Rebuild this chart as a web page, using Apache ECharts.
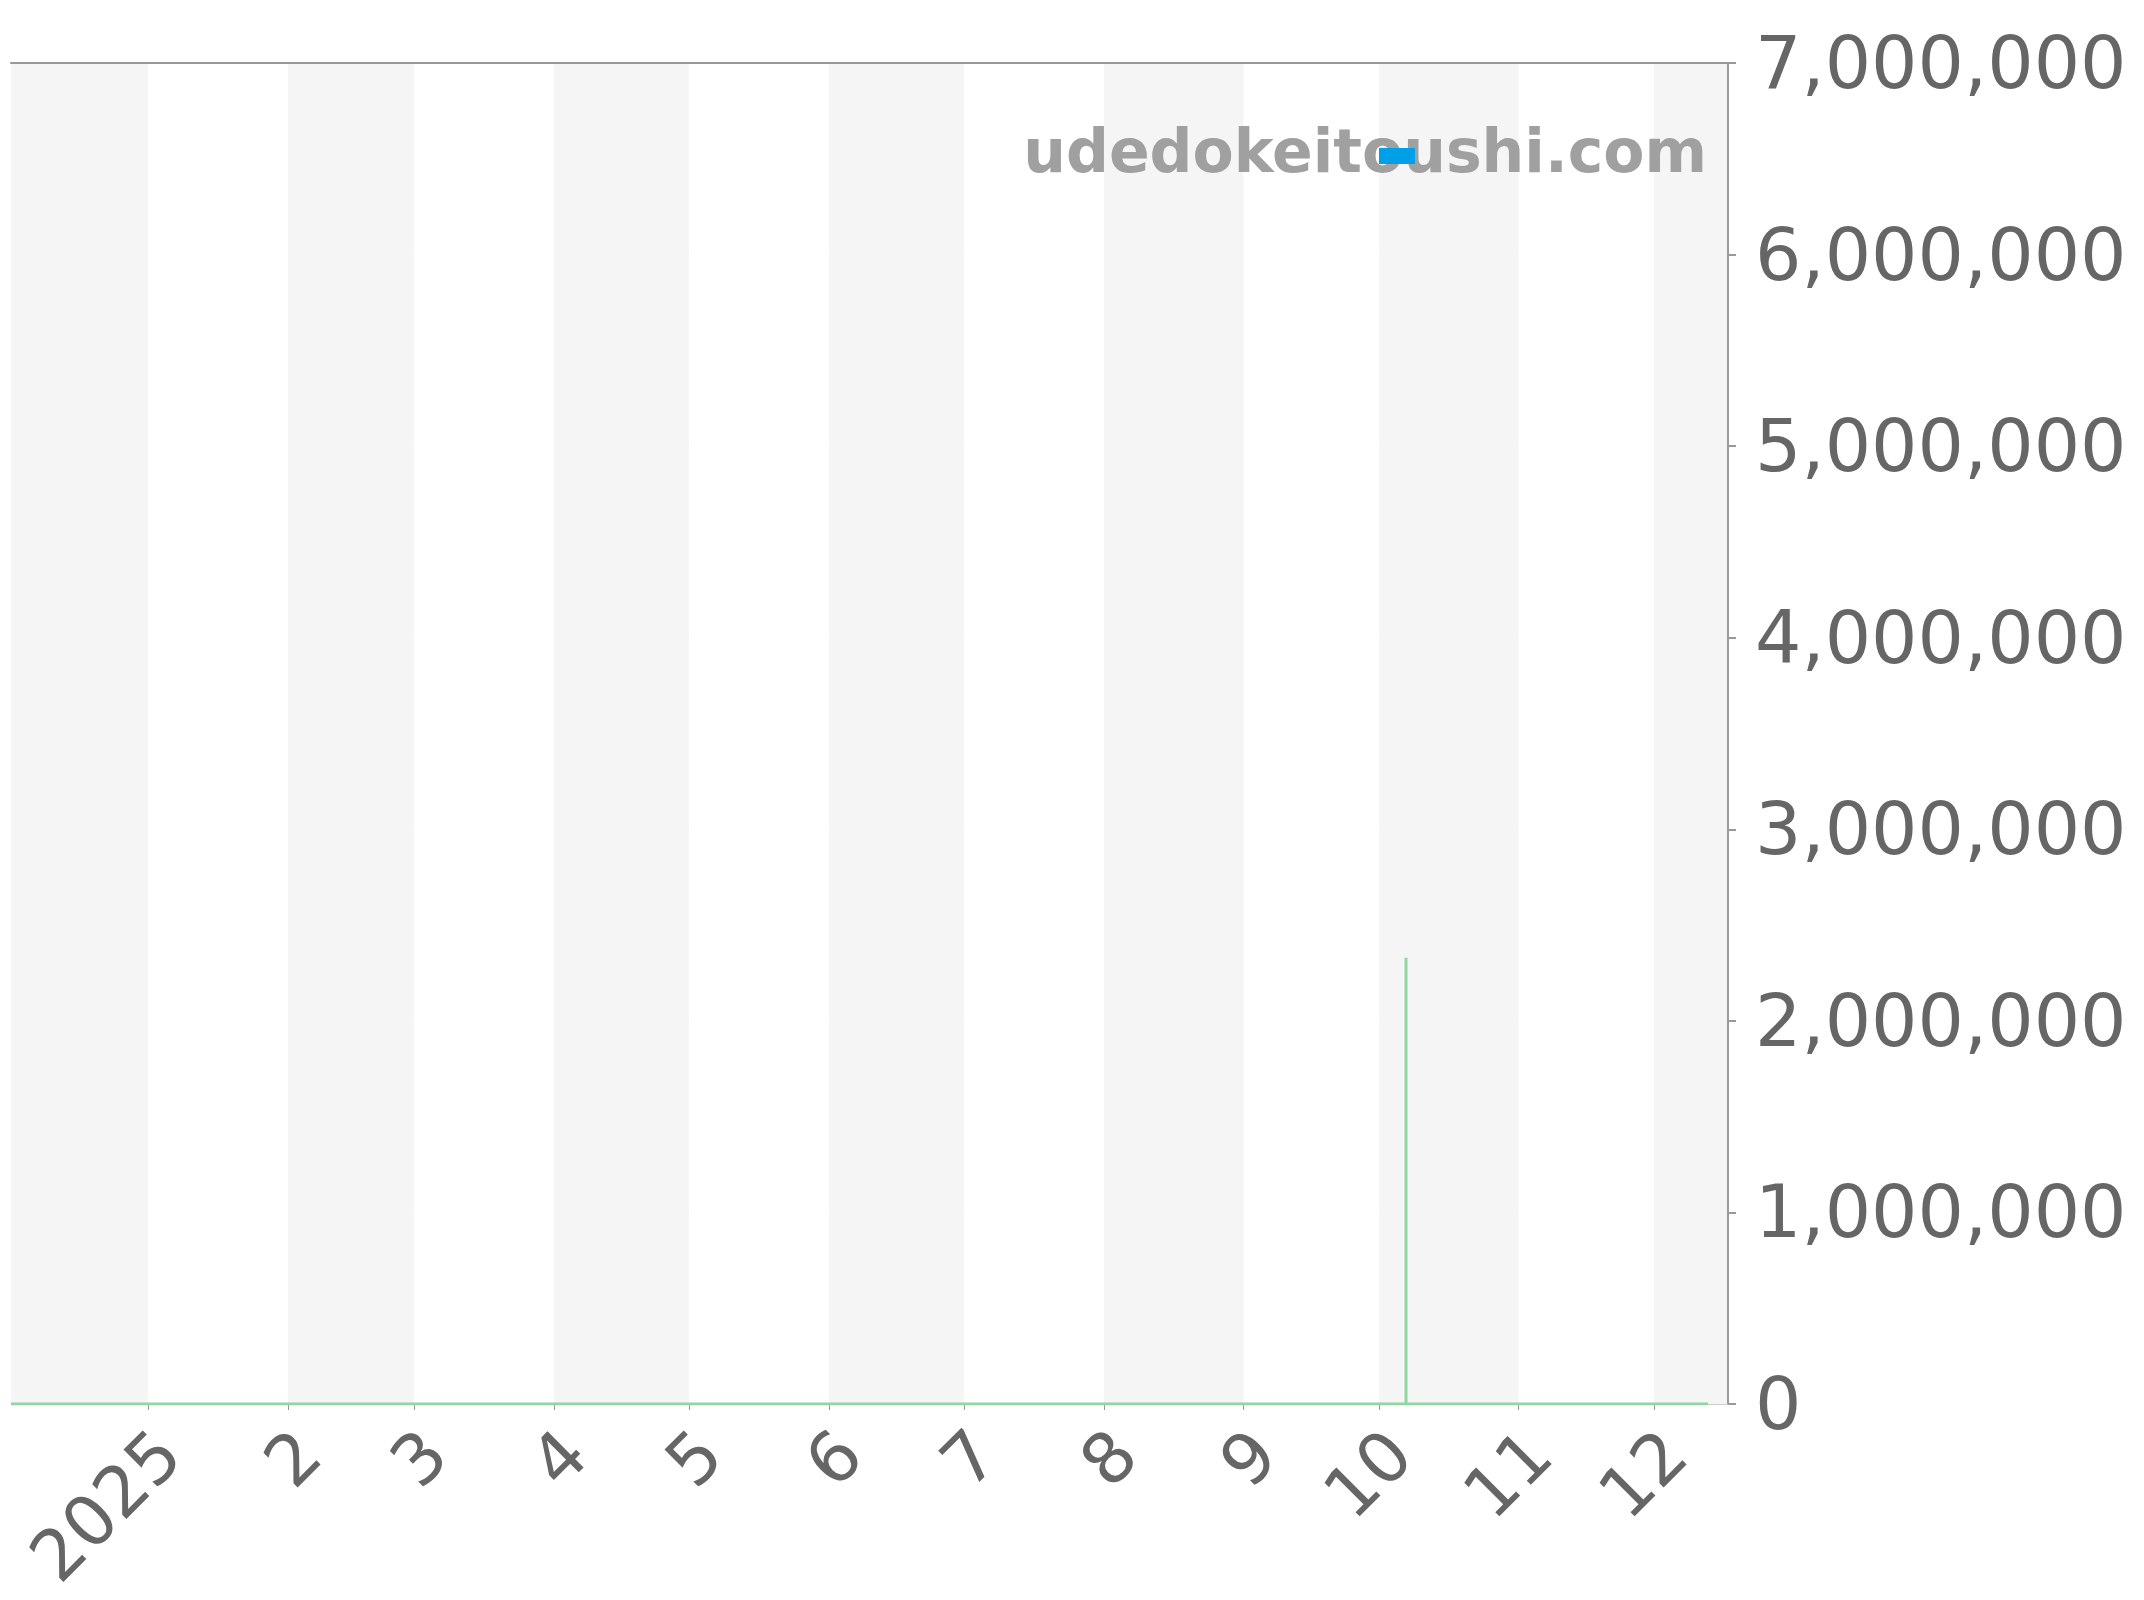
<!DOCTYPE html>
<html>
<head>
<meta charset="utf-8">
<script src="https://cdn.jsdelivr.net/npm/echarts@6/dist/echarts.min.js"></script>
<style>
    html, body { margin: 0; padding: 0; background: #fff; }
    #main { width: 2144px; height: 1600px; }
</style>
</head>
<body>
<div id="main"></div>
<script>
// price history (JPY) - flat at zero apart from a single day
const dates = ['2024-12-01T14:00', '2025-10-07', '2025-10-07', '2025-10-07', '2025-12-13']
const prices = [0, 0, 2330000, 0, 0]
const axisStart = '2024-12-01T14:00'
const axisEnd = '2025-12-17T10:00'
const yTicks = [0, 1000000, 2000000, 3000000, 4000000, 5000000, 6000000, 7000000]
const siteName = 'udedokeitoushi.com'

const font = 'DejaVu Sans'
const chart = echarts.init(document.getElementById('main'))

chart.setOption({
    animation: false,
    grid: { left: 11, right: 416, top: 63, bottom: 196 },
    legend: {
        left: 1379,
        top: 148,
        padding: 0,
        itemWidth: 36,
        itemHeight: 16,
        formatter: () => '',
        z: 5,
        data: [{ name: 'price', icon: 'rect', itemStyle: { color: '#00a0e9' } }],
    },
    graphic: [{
        type: 'text',
        z: 3,
        style: {
            text: siteName,
            x: 1707,
            y: 156,
            align: 'right',
            verticalAlign: 'middle',
            font: `bold 60px "${font}"`,
            fill: '#a0a0a0',
        },
    }],
    xAxis: [{
        type: 'time',
        min: axisStart,
        max: axisEnd,
        splitNumber: 12,
        maxInterval: 31 * 86400000,
        axisLine: { lineStyle: { color: '#cccccc', width: 1 } },
        axisTick: { show: true, length: 6, lineStyle: { color: '#999999' } },
        axisLabel: {
            rotate: 45,
            margin: 18,
            verticalAlign: 'top',
            color: '#666666',
            fontFamily: font,
            fontSize: 70,
            formatter: { year: '{yyyy}', month: '{M}', day: '{d}' },
        },
        splitLine: { show: false },
        splitArea: { show: true, areaStyle: { color: ['#f5f5f5', '#ffffff'] } },
    }, {
        type: 'time',
        position: 'top',
        min: axisStart,
        max: axisEnd,
        axisLine: { show: true, lineStyle: { color: '#999999', width: 2 } },
        axisTick: { show: false },
        axisLabel: { show: false },
        splitLine: { show: false },
    }],
    yAxis: {
        type: 'value',
        position: 'right',
        min: yTicks[0],
        max: yTicks[yTicks.length - 1],
        interval: 1000000,
        axisLine: { show: true, lineStyle: { color: '#999999', width: 2 } },
        axisTick: { show: true, length: 8, lineStyle: { color: '#999999', width: 2 } },
        axisLabel: {
            margin: 27,
            color: '#666666',
            fontFamily: font,
            fontSize: 73,
            formatter: v => '{v|' + v.toLocaleString('en-US') + '}',
            rich: {
                v: {
                    color: '#666666',
                    fontFamily: font,
                    fontSize: 73,
                    padding: [12, 0, 0, 0],
                },
            },
        },
        splitLine: { show: true, lineStyle: { color: '#e8e8e8', width: 1 } },
    },
    series: [{
        name: 'price',
        type: 'line',
        xAxisIndex: 0,
        data: dates.map((d, i) => [d, prices[i]]),
        showSymbol: false,
        lineStyle: { color: '#8fd6a0', width: 3 },
        itemStyle: { color: '#8fd6a0' },
        z: 2,
    }],
})
</script>
</body>
</html>
